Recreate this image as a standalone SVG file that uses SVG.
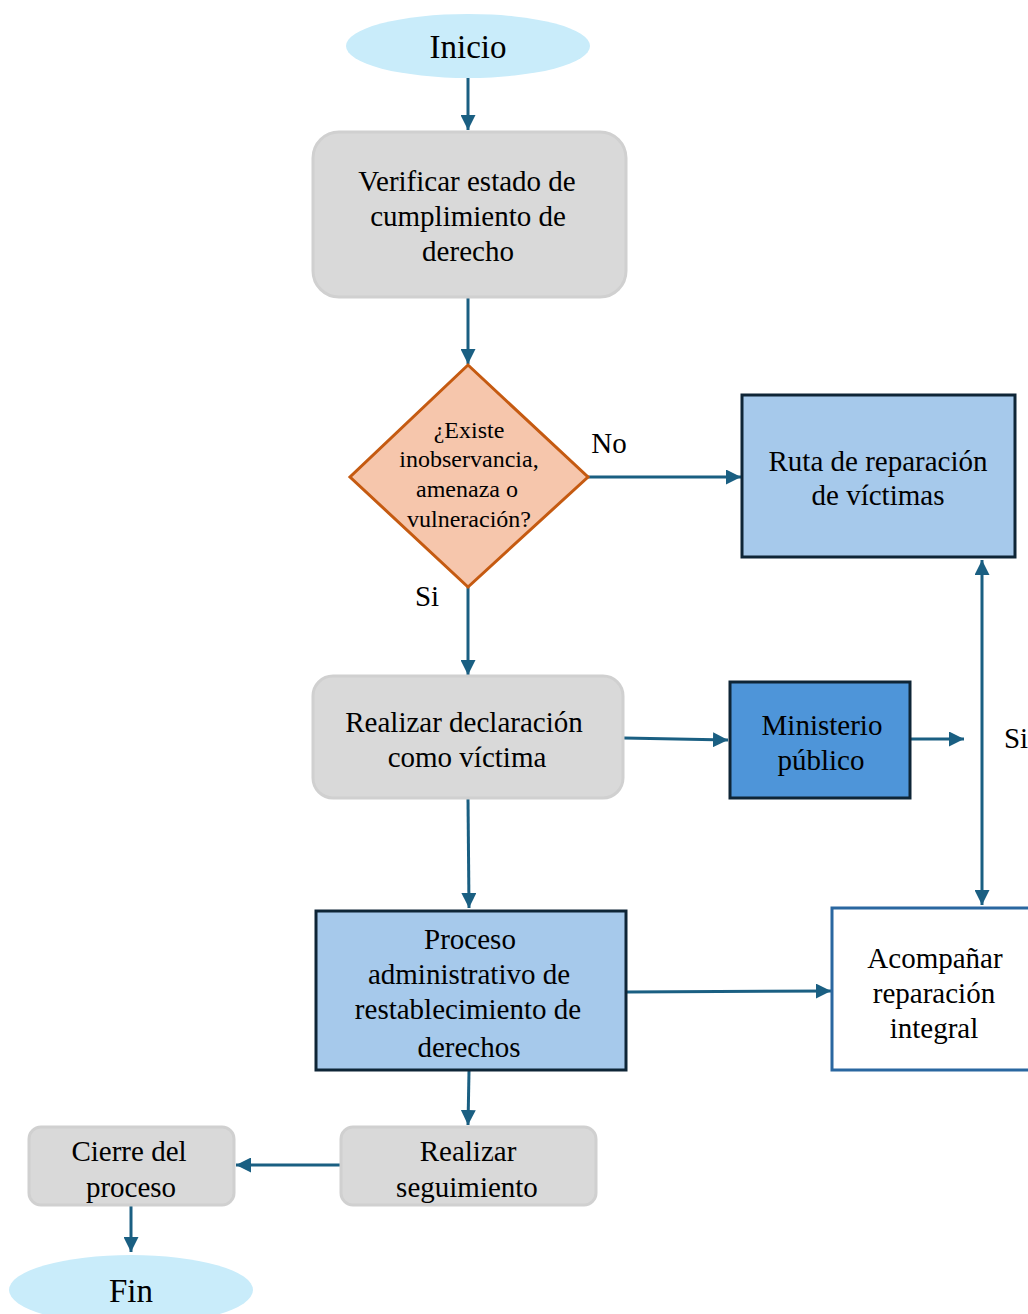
<svg xmlns="http://www.w3.org/2000/svg" width="1028" height="1314" viewBox="0 0 1028 1314">
<style>
text{font-family:"Liberation Serif","Times New Roman",serif;fill:#000;text-anchor:middle}
.t{font-size:29px}
.d{font-size:24px}
.term{fill:#C9ECFA}
.gray{fill:#D9D9D9;stroke:#D0D0D0;stroke-width:3}
.blue{fill:#A6C9EB;stroke:#0E2536;stroke-width:3}
.mid{fill:#4E95D9;stroke:#0E2536;stroke-width:3}
.white{fill:#fff;stroke:#2A67A0;stroke-width:3}
.c{stroke:#1A5F82;stroke-width:3;fill:none;marker-end:url(#ah)}
</style>
<defs>
<marker id="ah" viewBox="0 0 10 10" refX="10" refY="5" markerWidth="5" markerHeight="5" markerUnits="strokeWidth" orient="auto-start-reverse">
<path d="M0,0 L10,5 L0,10 z" fill="#1A5F82"/>
</marker>
</defs>
<rect width="1028" height="1314" fill="#fff"/>
<g id="connectors">
<line class="c" x1="468" y1="78" x2="468" y2="130"/>
<line class="c" x1="468" y1="298" x2="468" y2="364"/>
<line class="c" x1="588" y1="477" x2="741" y2="477"/>
<line class="c" x1="468" y1="587" x2="468" y2="675"/>
<line class="c" x1="624" y1="738" x2="728" y2="740"/>
<line class="c" x1="911" y1="739" x2="964" y2="739"/>
<line class="c" x1="982" y1="905" x2="982" y2="560" style="marker-start:url(#ah)"/>
<line class="c" x1="468" y1="799" x2="469" y2="908"/>
<line class="c" x1="627" y1="992" x2="831" y2="991"/>
<line class="c" x1="469" y1="1071" x2="468" y2="1125"/>
<line class="c" x1="340" y1="1165" x2="236" y2="1165"/>
<line class="c" x1="131" y1="1206" x2="131" y2="1252"/>
<text class="t" x="609" y="453">No</text>
<text class="t" x="427" y="606">Si</text>
<text class="t" x="1016" y="748">Si</text>
</g>
<g id="inicio">
<ellipse class="term" cx="468" cy="46" rx="122" ry="32"/>
<text x="468" y="58" style="font-size:33px">Inicio</text>
</g>
<g id="verificar">
<rect class="gray" x="313" y="132" width="313" height="165" rx="26"/>
<text class="t" x="467" y="191">Verificar estado de</text>
<text class="t" x="468" y="226">cumplimiento de</text>
<text class="t" x="468" y="261">derecho</text>
</g>
<g id="decision">
<polygon points="468,365 588,477 468,587 350,477" fill="#F6C6AC" stroke="#C55A11" stroke-width="3"/>
<text class="d" x="469" y="438">¿Existe</text>
<text class="d" x="469" y="467">inobservancia,</text>
<text class="d" x="467" y="497">amenaza o</text>
<text class="d" x="469" y="527">vulneración?</text>
</g>
<g id="ruta">
<rect class="blue" x="742" y="395" width="273" height="162"/>
<text class="t" x="878" y="471">Ruta de reparación</text>
<text class="t" x="878" y="505">de víctimas</text>
</g>
<g id="declaracion">
<rect class="gray" x="313" y="676" width="310" height="122" rx="20"/>
<text class="t" x="464" y="732">Realizar declaración</text>
<text class="t" x="467" y="767">como víctima</text>
</g>
<g id="ministerio">
<rect class="mid" x="730" y="682" width="180" height="116"/>
<text class="t" x="822" y="735">Ministerio</text>
<text class="t" x="821" y="770">público</text>
</g>
<g id="proceso">
<rect class="blue" x="316" y="911" width="310" height="159"/>
<text class="t" x="470" y="949">Proceso</text>
<text class="t" x="469" y="984">administrativo de</text>
<text class="t" x="468" y="1019">restablecimiento de</text>
<text class="t" x="469" y="1057">derechos</text>
</g>
<g id="acompanar">
<rect class="white" x="832" y="908" width="210" height="162"/>
<text class="t" x="935" y="968">Acompañar</text>
<text class="t" x="934" y="1003">reparación</text>
<text class="t" x="934" y="1038">integral</text>
</g>
<g id="seguimiento">
<rect class="gray" x="341" y="1127" width="255" height="78" rx="12"/>
<text class="t" x="468" y="1161">Realizar</text>
<text class="t" x="467" y="1197">seguimiento</text>
</g>
<g id="cierre">
<rect class="gray" x="29" y="1127" width="205" height="78" rx="12"/>
<text class="t" x="129" y="1161">Cierre del</text>
<text class="t" x="131" y="1197">proceso</text>
</g>
<g id="fin">
<ellipse class="term" cx="131" cy="1290" rx="122" ry="35"/>
<text x="131" y="1302" style="font-size:33px">Fin</text>
</g>
</svg>
